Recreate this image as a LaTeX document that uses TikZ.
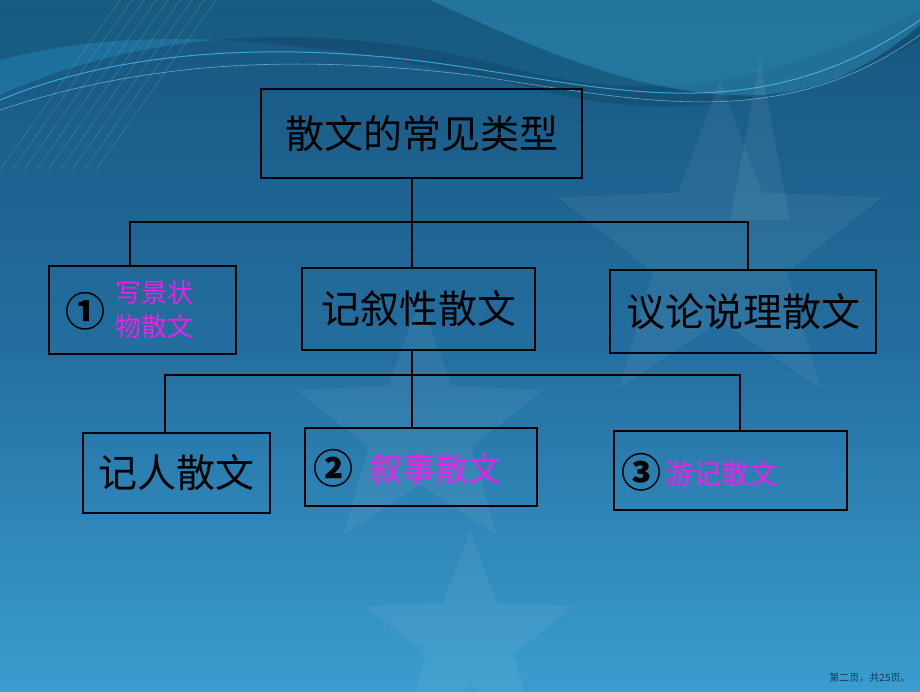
\documentclass[tikz,border=0pt]{standalone}
\usepackage{fontspec}
\newfontfamily\cjk{Noto Sans CJK SC}
\usetikzlibrary{shapes.geometric}
\definecolor{bgtop}{HTML}{17567F}
\definecolor{bgmid}{HTML}{236E9F}
\definecolor{bgbot}{HTML}{3A9DCF}
\definecolor{mag}{HTML}{F01EE6}
\tikzset{
  box/.style={draw=black, line width=1.8pt, rectangle, inner sep=0pt},
  link/.style={draw=black, line width=1.3pt},
  big/.style={font=\cjk\fontsize{39}{42}\selectfont, text=black},
  pink/.style={text=mag},
  num/.style={font=\cjk\bfseries\fontsize{40}{42}\selectfont, text=black},
  starbg/.style={star, star points=5, star point ratio=2.4, fill=white, fill opacity=0.055, draw=none},
}
\begin{document}
\begin{tikzpicture}[x=1pt,y=-1pt]
% background
\shade[top color=bgtop, bottom color=bgbot, middle color=bgmid] (0,0) rectangle (920,691);
\useasboundingbox (0,0) rectangle (920,691);
% waves
\fill[cyan!60!teal, opacity=0.35] (0,0) -- (0,95) .. controls (120,40) and (300,10) .. (520,70) .. controls (680,110) and (800,70) .. (920,10) -- (920,0) -- cycle;
\fill[bgtop!80!black, opacity=0.45] (0,60) .. controls (150,20) and (330,40) .. (560,95) .. controls (700,125) and (830,90) .. (920,40) -- (920,0) -- (0,0) -- cycle;
\fill[cyan!50!teal, opacity=0.45] (0,0) -- (430,0) .. controls (520,40) and (640,100) .. (760,95) .. controls (840,90) and (890,50) .. (920,25) -- (920,0) -- cycle;
\draw[cyan!70, line width=1pt, opacity=0.7] (0,100) .. controls (120,50) and (280,40) .. (450,65) .. controls (620,90) and (760,130) .. (920,20);
\draw[cyan!40, line width=0.6pt, opacity=0.6] (0,110) .. controls (150,60) and (300,55) .. (470,75) .. controls (640,100) and (780,135) .. (920,35);
\foreach \i in {0,...,8} {
  \draw[white, opacity=0.10, line width=1pt] (120+\i*12,0) -- (0+\i*12,170);
}
\fill[white, opacity=0.06] (760,60) -- (790,220) -- (730,220) -- cycle;
% stars
\node[starbg, minimum size=340pt] (s1) at (720,250) {};
\node[starbg, minimum size=260pt] (s2) at (420,430) {};
\node[starbg, minimum size=220pt] (s3) at (470,640) {};
% boxes
\node[box, minimum width=321pt, minimum height=89pt] (top) at (421.5,133.5) {};
\node[big] (toptext) at (top.center) {散文的常见类型};
\node[box, minimum width=187pt, minimum height=88pt] (a) at (142.5,310) {};
\node[num] (anum) at (85,311) {①};
\node[pink, font=\cjk\fontsize{26}{34}\selectfont, align=center] (atext) at (154,310) {写景状\\物散文};
\node[box, minimum width=233pt, minimum height=82pt] (b) at (418.5,309) {};
\node[big] (btext) at (b.center) {记叙性散文};
\node[box, minimum width=266pt, minimum height=83pt] (c) at (743,311.5) {};
\node[big] (ctext) at (c.center) {议论说理散文};
\node[box, minimum width=187pt, minimum height=80pt] (d) at (176.5,473) {};
\node[big] (dtext) at (d.center) {记人散文};
\node[box, minimum width=232pt, minimum height=78pt] (e) at (421,467) {};
\node[num] (enum) at (333,468) {②};
\node[pink, font=\cjk\fontsize{33}{36}\selectfont] (etext) at (435,469) {叙事散文};
\node[box, minimum width=233pt, minimum height=79pt] (f) at (730.5,470.5) {};
\node[num] (fnum) at (641,472) {③};
\node[pink, font=\cjk\fontsize{28}{30}\selectfont] (ftext) at (721,474) {游记散文};
% connectors
\coordinate (j1) at (412,222);
\coordinate (jl) at (130,222);
\coordinate (jr) at (748,222);
\draw[link] (j1 |- top.south) -- (j1) -- (j1 |- b.north);
\draw[link] (jl |- a.north) -- (jl) -- (jr) -- (jr |- c.north);
\coordinate (k1) at (412,375);
\coordinate (kl) at (165,375);
\coordinate (kr) at (740,375);
\draw[link] (k1 |- b.south) -- (k1) -- (k1 |- e.north);
\draw[link] (kl |- d.north) -- (kl) -- (kr) -- (kr |- f.north);
% footer
\node[font=\cjk\fontsize{10}{12}\selectfont, text=bgtop!70!black] (foot) at (870,678) {第二页，共25页。};
\end{tikzpicture}
\end{document}
